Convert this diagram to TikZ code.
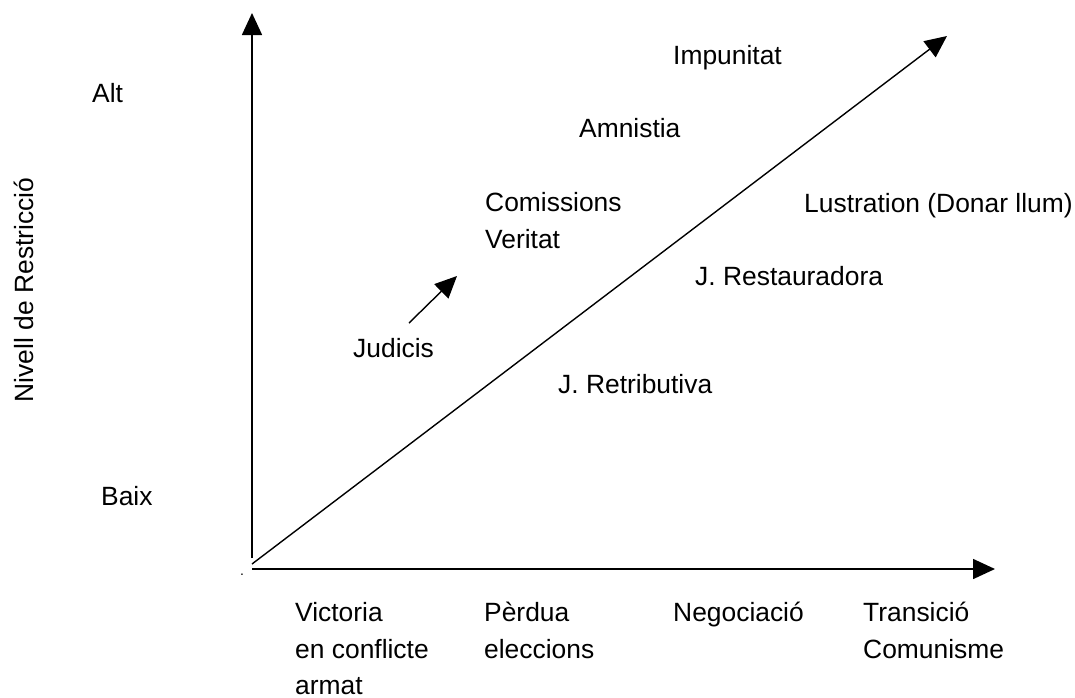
\documentclass[tikz,border=0pt]{standalone}
\usepackage{fontspec}
\setmainfont{Liberation Sans}
\usetikzlibrary{arrows.meta}
\begin{document}
\begin{tikzpicture}[x=1pt,y=-1pt,
  lbl/.style={anchor=base west,inner sep=0pt,font=\fontsize{26.4}{37}\selectfont},
  arr/.style={-{Triangle[length=22pt,width=20pt]},line width=1.6pt},
  darr/.style={-{Triangle[length=22pt,width=20pt]},line width=1.4pt}]
\useasboundingbox[fill=white] (0,0) rectangle (1075,697);
% axes
\coordinate (o) at (252,564);
\coordinate (vb) at (252,558);
\coordinate (vt) at (252,13);
\coordinate (hb) at (252,569);
\coordinate (ht) at (995,569);
\coordinate (dt) at (947,36);
\coordinate (ja) at (409,323);
\coordinate (jb) at (457,276);
\draw[arr] (vb) -- (vt);
\draw[arr] (hb) -- (ht);
\draw[darr] (o) -- (dt);
\draw[darr] (ja) -- (jb);
\node[lbl,font=\fontsize{14}{16}\selectfont] (dot) at (240,575) {.};
% y labels
\node[lbl] (alt) at (92,102) {Alt};
\node[lbl] (baix) at (101,505) {Baix};
\node[anchor=base,inner sep=0pt,font=\fontsize{26.4}{37}\selectfont,rotate=90] (niv) at (33,290) {Nivell de Restricció};
% inner labels
\node[lbl] (imp) at (673,64) {Impunitat};
\node[lbl] (amn) at (579,137) {Amnistia};
\node[lbl] (com) at (485,211) {Comissions};
\node[lbl] (ver) at (485,248) {Veritat};
\node[lbl] (lus) at (804,212) {Lustration (Donar llum)};
\node[lbl] (res) at (695,285) {J. Restauradora};
\node[lbl] (jud) at (353,357) {Judicis};
\node[lbl] (ret) at (558,393) {J. Retributiva};
% x labels
\node[lbl] (vic1) at (295,621) {Victoria};
\node[lbl] (vic2) at (295,658) {en conflicte};
\node[lbl] (vic3) at (295,694) {armat};
\node[lbl] (per1) at (484,621) {Pèrdua};
\node[lbl] (per2) at (484,658) {eleccions};
\node[lbl] (neg) at (673,621) {Negociació};
\node[lbl] (tra1) at (863,621) {Transició};
\node[lbl] (tra2) at (863,658) {Comunisme};
\end{tikzpicture}
\end{document}
